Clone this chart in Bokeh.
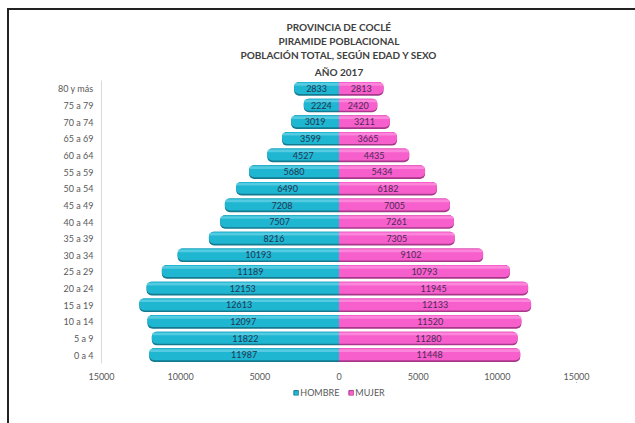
from bokeh.plotting import figure
from bokeh.models import (Title, Legend, LegendItem, FixedTicker, Spacer,
                          ColumnDataSource, Range1d, FactorRange)
from bokeh.layouts import column
from bokeh.transform import dodge
from bokeh.core.properties import value
from bokeh.embed import file_html
from bokeh.resources import INLINE

title_lines = ["PROVINCIA DE COCLÉ", "PIRAMIDE POBLACIONAL",
               "POBLACIÓN TOTAL, SEGÚN EDAD Y SEXO", "AÑO 2017"]
age_groups = ["0 a 4", "5 a 9", "10 a 14", "15 a 19", "20 a 24", "25 a 29",
              "30 a 34", "35 a 39", "40 a 44", "45 a 49", "50 a 54", "55 a 59",
              "60 a 64", "65 a 69", "70 a 74", "75 a 79", "80 y más"]
hombre = [11987, 11822, 12097, 12613, 12153, 11189, 10193, 8216, 7507, 7208,
          6490, 5680, 4527, 3599, 3019, 2224, 2833]
mujer = [11448, 11280, 11520, 12133, 11945, 10793, 9102, 7305, 7261, 7005,
         6182, 5434, 4435, 3665, 3211, 2420, 2813]
x_ticks = [-15000, -10000, -5000, 0, 5000, 10000, 15000]
x_tick_labels = ["15000", "10000", "5000", "0", "5000", "10000", "15000"]
series_names = ["HOMBRE", "MUJER"]

FONT = "Lato"

src = ColumnDataSource(dict(
    age=age_groups,
    h=[-v for v in hombre],
    m=mujer,
    h_mid=[-v / 2 for v in hombre],
    m_mid=[v / 2 for v in mujer],
    h_txt=[str(v) for v in hombre],
    m_txt=[str(v) for v in mujer],
))

p = figure(frame_width=475, frame_height=283, output_backend="svg",
           toolbar_location=None,
           x_range=Range1d(-15000, 15000),
           y_range=FactorRange(*age_groups, range_padding=0),
           min_border_left=92, min_border_right=59,
           min_border_top=70, min_border_bottom=0)
p.outline_line_color = None
p.xgrid.grid_line_color = None
p.ygrid.grid_line_color = None

# male bars (3-D look: dark underside, main face, light highlight)
rl = (5, 0, 0, 5)
rr = (0, 5, 5, 0)
p.hbar(y="age", left="h", right=0, height=0.82, source=src,
       fill_color="#137a90", line_color=None, border_radius=rl)
p.hbar(y=dodge("age", 0.05, range=p.y_range), left="h", right=0, height=0.72,
       source=src, fill_color="#1fb6d2", line_color=None, border_radius=rl)
p.hbar(y=dodge("age", 0.27, range=p.y_range), left="h", right=0, height=0.16,
       source=src, fill_color="#7fdcec", fill_alpha=0.55, line_color=None,
       border_radius=rl)

# female bars
p.hbar(y="age", left=0, right="m", height=0.82, source=src,
       fill_color="#a8378a", line_color=None, border_radius=rr)
p.hbar(y=dodge("age", 0.05, range=p.y_range), left=0, right="m", height=0.72,
       source=src, fill_color="#f760cc", line_color=None, border_radius=rr)
p.hbar(y=dodge("age", 0.27, range=p.y_range), left=0, right="m", height=0.16,
       source=src, fill_color="#ffa6e6", fill_alpha=0.55, line_color=None,
       border_radius=rr)

p.text(x="h_mid", y=dodge("age", 0.02, range=p.y_range), text="h_txt", source=src,
       text_align="center", text_baseline="middle", text_font_size="9px",
       text_color="#253550", text_font=value(FONT))
p.text(x="m_mid", y=dodge("age", 0.02, range=p.y_range), text="m_txt", source=src,
       text_align="center", text_baseline="middle", text_font_size="9px",
       text_color="#4a2a55", text_font=value(FONT))

# axes
p.xaxis.ticker = FixedTicker(ticks=x_ticks)
p.xaxis.major_label_overrides = {t: l for t, l in zip(x_ticks, x_tick_labels)}
p.xaxis.axis_line_color = None
p.xaxis.major_tick_line_color = None
p.xaxis.minor_tick_line_color = None
p.xaxis.major_tick_out = 0
p.xaxis.major_label_text_font_size = "9px"
p.xaxis.major_label_text_color = "#595959"
p.xaxis.major_label_text_font = FONT
p.xaxis.major_label_standoff = 9

p.yaxis.axis_line_color = "#d9d9d9"
p.yaxis.major_tick_line_color = None
p.yaxis.minor_tick_line_color = None
p.yaxis.major_tick_out = 0
p.yaxis.major_label_text_font_size = "9px"
p.yaxis.major_label_text_color = "#595959"
p.yaxis.major_label_text_font = FONT
p.yaxis.major_label_standoff = 8

# stacked titles (last added ends on top)
for i, line in enumerate(reversed(title_lines)):
    t = Title(text=line, align="center", text_font_size="10px",
              text_font_style="bold", text_color="#404040", text_font=FONT,
              standoff=6 if i == 0 else 0)
    p.add_layout(t, "above")

# legend strip under the axis (own small figure, frame aligned with the chart)
lg = figure(frame_width=475, height=20, output_backend="svg",
            toolbar_location=None, x_axis_location=None, y_axis_location=None,
            x_range=Range1d(0, 1), y_range=Range1d(0, 1),
            min_border_left=92, min_border_right=59,
            min_border_top=0, min_border_bottom=0)
lg.outline_line_color = None
lg.xgrid.grid_line_color = None
lg.ygrid.grid_line_color = None
# swatch renderers for the legend (kept outside the visible range)
r_h = lg.hbar(y=[5], left=[5], right=[6], height=0.5,
              fill_color="#1fb6d2", line_color="#137a90")
r_m = lg.hbar(y=[5], left=[5], right=[6], height=0.5,
              fill_color="#f760cc", line_color="#a8378a")
legend = Legend(items=[LegendItem(label=series_names[0], renderers=[r_h]),
                       LegendItem(label=series_names[1], renderers=[r_m])],
                orientation="horizontal", location="center",
                label_text_font_size="9px", label_text_color="#595959",
                label_text_font=FONT, glyph_width=6, glyph_height=6,
                label_height=10, label_standoff=2, spacing=8,
                padding=0, margin=0,
                border_line_color=None, background_fill_alpha=0)
lg.add_layout(legend, "center")

layout = column(p, lg, Spacer(width=626, height=30))
layout.styles = {"margin-left": "7px", "margin-top": "8px",
                 "border-left": "2px solid #222222",
                 "border-top": "2px solid #222222"}

open("out.html", "w").write(file_html(layout, INLINE))
